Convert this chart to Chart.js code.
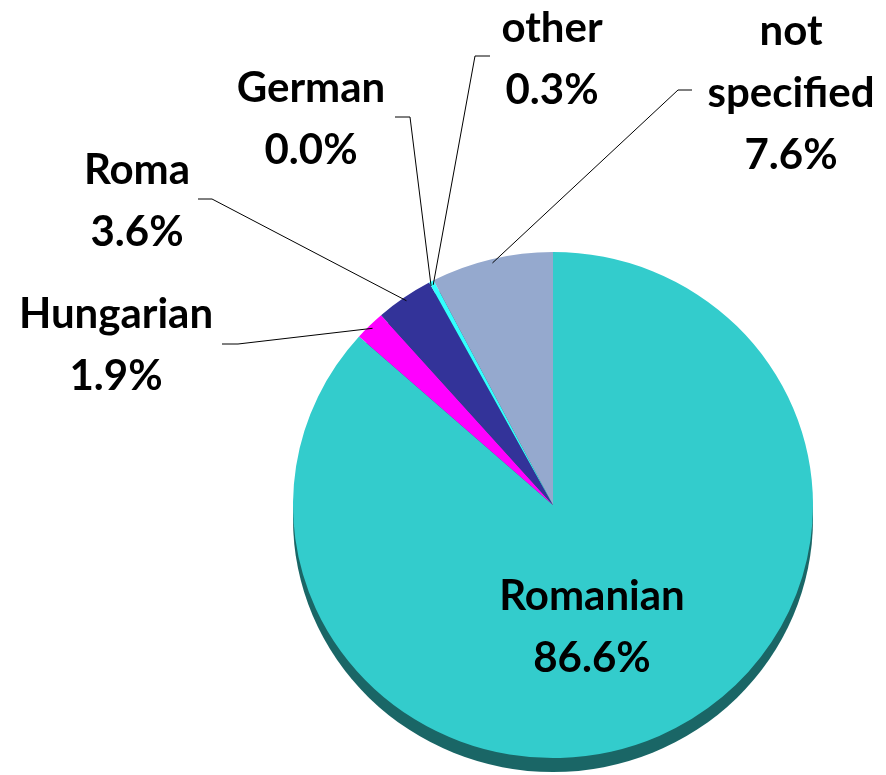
<!DOCTYPE html>
<html>
<head>
<meta charset="utf-8">
<script src="https://cdn.jsdelivr.net/npm/chart.js@4/dist/chart.umd.min.js"></script>
<style>
  html, body { margin: 0; padding: 0; background: #fff; }
  #wrap { width: 886px; height: 775px; }
</style>
</head>
<body>
<div id="wrap"><canvas id="pie" width="886" height="775"></canvas></div>
<script>
const categories = ["Romanian", "Hungarian", "Roma", "German", "other", "not specified"];
const shares = [86.6, 1.9, 3.6, 0.0, 0.3, 7.6];
const sliceColors = ["#33CCCC", "#FF00FF", "#333399", "#FFFF99", "#33FFFF", "#95A9CE"];

// where each label sits (centre x, first baseline) and its leader elbow
const labelSpots = [
  { x: 592, y: 610, leader: null },
  { x: 116, y: 328, leader: [[222, 344], [238, 344]] },
  { x: 137, y: 184, leader: [[198, 199], [212, 199]] },
  { x: 311, y: 102, leader: [[395, 117], [410, 117]] },
  { x: 552, y: 42, leader: [[490, 56], [475, 56]] },
  { x: 791, y: 45, leader: [[692, 90], [678, 90]], wrap: true }
];

const squash = 253 / 260; // pie is a little flatter than round
const depth = 14;

const tiltPlugin = {
  id: "tilt",
  beforeDatasetsDraw(chart) {
    const arc = chart.getDatasetMeta(0).data[0];
    const ctx = chart.ctx;
    ctx.save();
    ctx.translate(arc.x, arc.y);
    ctx.scale(1, squash);
    ctx.translate(-arc.x, -arc.y);
    // dark rim underneath
    ctx.beginPath();
    ctx.arc(arc.x, arc.y + depth / squash, arc.outerRadius, 0, Math.PI * 2);
    ctx.fillStyle = "#1A6666";
    ctx.fill();
  },
  afterDatasetsDraw(chart) {
    chart.ctx.restore();
  }
};

const labelPlugin = {
  id: "labels",
  afterDraw(chart) {
    const ctx = chart.ctx;
    const arcs = chart.getDatasetMeta(0).data;
    ctx.save();
    ctx.font = "bold 42px Lato";
    ctx.textAlign = "center";
    ctx.textBaseline = "alphabetic";
    ctx.fillStyle = "#000";
    ctx.strokeStyle = "#000";
    ctx.lineWidth = 1;
    arcs.forEach((arc, i) => {
      const spot = labelSpots[i];
      const lines = spot.wrap ? categories[i].split(" ") : [categories[i]];
      lines.push(shares[i].toFixed(1) + "%");
      lines.forEach((t, j) => ctx.fillText(t, spot.x, spot.y + j * 62));
      if (spot.leader) {
        const mid = (arc.startAngle + arc.endAngle) / 2;
        const r = arc.outerRadius - 4;
        const ex = arc.x + Math.cos(mid) * r;
        const ey = arc.y + Math.sin(mid) * r * squash;
        ctx.beginPath();
        ctx.moveTo(spot.leader[0][0], spot.leader[0][1]);
        ctx.lineTo(spot.leader[1][0], spot.leader[1][1]);
        ctx.lineTo(ex, ey);
        ctx.stroke();
      }
    });
    ctx.restore();
  }
};

new Chart(document.getElementById("pie"), {
  type: "pie",
  data: {
    labels: categories,
    datasets: [{
      data: shares,
      backgroundColor: sliceColors,
      borderWidth: 0
    }]
  },
  options: {
    responsive: false,
    animation: false,
    layout: { padding: { left: 293, right: 73, top: 245, bottom: 10 } },
    plugins: {
      legend: { display: false },
      tooltip: { enabled: false }
    }
  },
  plugins: [tiltPlugin, labelPlugin]
});
</script>
</body>
</html>
